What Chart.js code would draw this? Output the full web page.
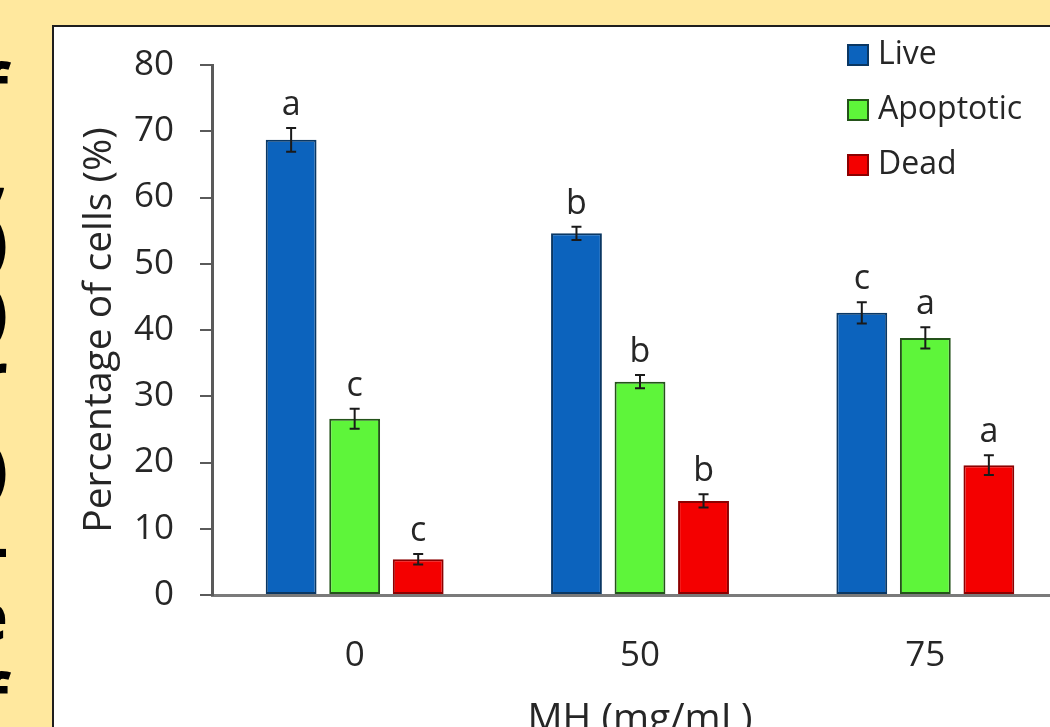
<!DOCTYPE html>
<html>
<head>
<meta charset="utf-8">
<script src="https://cdn.jsdelivr.net/npm/chart.js@4.4.1/dist/chart.umd.min.js"></script>
<style>
html, body { margin: 0; padding: 0; }
body { width: 1050px; height: 727px; overflow: hidden; background: #ffe89e; position: relative; }
#lado { position: absolute; left: 0; top: 0; width: 47px; height: 727px; overflow: hidden; }
#lado span { position: absolute; right: 39px; font: 700 66px 'Open Sans', sans-serif; line-height: 1; color: #000; }
#caixa { position: absolute; left: 52px; top: 25px; width: 1100px; height: 800px; background: #fff; border: 2px solid #1e1e1e; box-sizing: border-box; }
#grafico { position: absolute; left: 54px; top: 27px; }
</style>
</head>
<body>
<div id="lado">
    <span style="top:53px">f</span>
    <span style="top:136px">,</span>
    <span style="top:207px">)</span>
    <span style="top:277px">)</span>
    <span style="top:341px">r</span>
    <span style="top:434px">)</span>
    <span style="top:512px">-</span>
    <span style="top:581px">e</span>
    <span style="top:663px">f</span>
</div>
<div id="caixa"></div>
<canvas id="grafico" width="1014" height="720"></canvas>
<script>
// dados
const categorias = ['0', '50', '75'];
const vivas = [68.7, 54.6, 42.6];
const apoptoticas = [26.6, 32.2, 38.8];
const mortas = [5.4, 14.2, 19.6];
const errosVivas = [1.8, 1.0, 1.6];
const errosApoptoticas = [1.5, 1.0, 1.6];
const errosMortas = [0.8, 1.0, 1.5];
const letrasVivas = ['a', 'b', 'c'];
const letrasApoptoticas = ['c', 'b', 'a'];
const letrasMortas = ['c', 'b', 'a'];

const fonte = "'Open Sans'";
const corTexto = '#262626';

// barras de erro e letras de significância
const pluginErros = {
    id: 'barrasErro',
    afterDatasetsDraw(chart) {
        const ctx = chart.ctx;
        const escalaY = chart.scales.y;
        chart.data.datasets.forEach(function (ds, i) {
            const meta = chart.getDatasetMeta(i);
            meta.data.forEach(function (barra, j) {
                const v = ds.data[j];
                const e = ds.erros[j];
                const yTopo = escalaY.getPixelForValue(v + e);
                const yBase = escalaY.getPixelForValue(v - e);
                ctx.save();
                ctx.strokeStyle = '#1a1a1a';
                ctx.lineWidth = 2;
                ctx.beginPath();
                ctx.moveTo(barra.x, yTopo);
                ctx.lineTo(barra.x, yBase);
                ctx.moveTo(barra.x - 5, yTopo);
                ctx.lineTo(barra.x + 5, yTopo);
                ctx.moveTo(barra.x - 5, yBase);
                ctx.lineTo(barra.x + 5, yBase);
                ctx.stroke();
                ctx.fillStyle = corTexto;
                ctx.font = '34px ' + fonte;
                ctx.textAlign = 'center';
                ctx.textBaseline = 'alphabetic';
                ctx.fillText(ds.letras[j], barra.x, yTopo - 13);
                ctx.restore();
            });
        });
    }
};

// legenda vertical no canto superior direito
const pluginLegenda = {
    id: 'legendaLateral',
    afterDraw(chart) {
        const ctx = chart.ctx;
        chart.data.datasets.forEach(function (ds, i) {
            const y = 28 + i * 55;
            ctx.save();
            ctx.fillStyle = ds.backgroundColor;
            ctx.fillRect(794, y - 10, 20, 20);
            ctx.strokeStyle = ds.borderColor;
            ctx.lineWidth = 2;
            ctx.strokeRect(794, y - 10, 20, 20);
            ctx.fillStyle = corTexto;
            ctx.font = '32px ' + fonte;
            ctx.textAlign = 'left';
            ctx.textBaseline = 'middle';
            ctx.fillText(ds.label, 824, y);
            ctx.restore();
        });
    }
};

const data = {
    labels: categorias,
    datasets: [
        {
            label: 'Live',
            data: vivas,
            erros: errosVivas,
            letras: letrasVivas,
            backgroundColor: '#0c63bd',
            borderColor: '#0a3763',
            borderWidth: 2,
            borderSkipped: false
        },
        {
            label: 'Apoptotic',
            data: apoptoticas,
            erros: errosApoptoticas,
            letras: letrasApoptoticas,
            backgroundColor: '#5ef53a',
            borderColor: '#24521a',
            borderWidth: 2,
            borderSkipped: false
        },
        {
            label: 'Dead',
            data: mortas,
            erros: errosMortas,
            letras: letrasMortas,
            backgroundColor: '#f40000',
            borderColor: '#8c0000',
            borderWidth: 2,
            borderSkipped: false
        }
    ]
};

const config = {
    type: 'bar',
    data: data,
    options: {
        responsive: false,
        animation: false,
        devicePixelRatio: 1,
        categoryPercentage: 0.668,
        barPercentage: 0.8,
        layout: {
            padding: { top: 38, right: 0, bottom: 0, left: 0 }
        },
        plugins: {
            legend: { display: false },
            tooltip: { enabled: false },
            title: { display: false }
        },
        scales: {
            x: {
                grid: { display: false, drawTicks: false },
                border: { display: true, color: '#7a7a7a', width: 3 },
                ticks: {
                    color: corTexto,
                    padding: 40,
                    font: { family: fonte, size: 35 }
                },
                title: {
                    display: true,
                    text: 'MH (mg/mL)',
                    color: corTexto,
                    font: { family: fonte, size: 39 },
                    padding: { top: 0, bottom: 4 }
                },
                afterFit: function (escala) {
                    escala.height = 152;
                    escala.paddingLeft = 0;
                    escala.paddingRight = 0;
                }
            },
            y: {
                min: 0,
                max: 80,
                ticks: {
                    stepSize: 10,
                    color: corTexto,
                    padding: 26,
                    font: { family: fonte, size: 35 }
                },
                grid: {
                    drawOnChartArea: false,
                    drawTicks: true,
                    tickLength: 12,
                    color: '#5a5a5a',
                    lineWidth: 2
                },
                border: { display: true, color: '#5a5a5a', width: 3 },
                title: {
                    display: true,
                    text: 'Percentage of cells (%)',
                    color: corTexto,
                    font: { family: fonte, size: 39 },
                    padding: { top: 22, bottom: 0 }
                },
                afterFit: function (escala) {
                    escala.width = 158;
                    escala.paddingTop = 0;
                    escala.paddingBottom = 0;
                }
            }
        }
    },
    plugins: [pluginErros, pluginLegenda]
};

const grafico = new Chart(document.getElementById('grafico'), config);
</script>
</body>
</html>
